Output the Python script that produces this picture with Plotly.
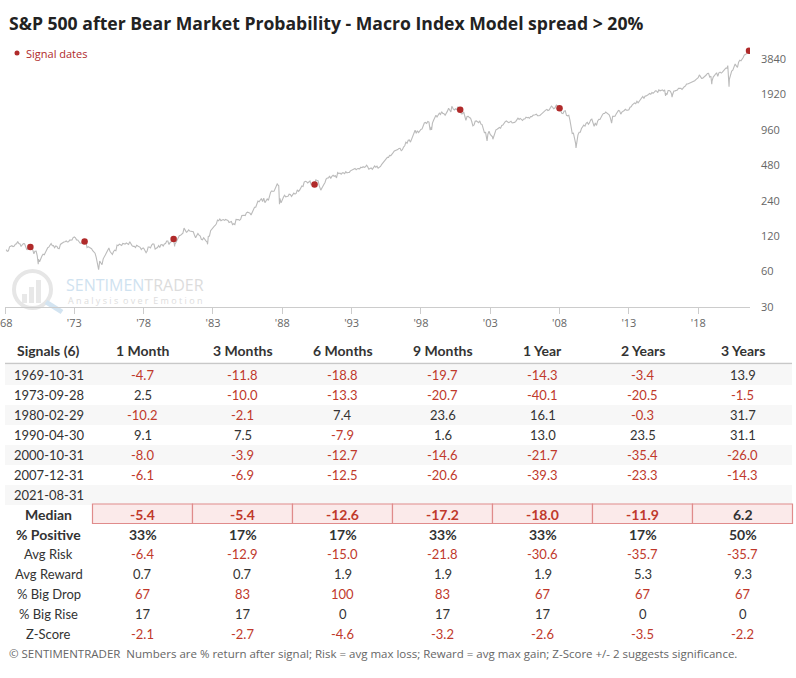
import plotly.graph_objects as go
import pandas as pd

# ---------------- data ----------------
chart_title = "S&P 500 after Bear Market Probability - Macro Index Model spread > 20%"

# S&P 500 month-end levels, Jan 1968 .. Aug 2021
spx_monthly = [
    92.2, 89.4, 90.2, 97.5, 98.7, 99.6, 97.7, 98.9, 102.7, 103.4, 108.4, 103.9,
    103.0, 98.1, 101.5, 103.7, 103.5, 97.7, 91.8, 95.5, 93.1, 97.1, 93.8, 92.1,
    85.0, 89.5, 89.6, 81.5, 76.6, 72.7, 78.1, 81.5, 84.3, 83.3, 87.2, 92.2,
    95.9, 96.8, 100.3, 103.9, 99.6, 99.7, 95.6, 99.0, 98.3, 94.2, 94.0, 102.1,
    103.9, 106.6, 107.2, 107.7, 109.5, 107.1, 107.4, 111.1, 110.6, 111.6, 116.7, 118.1,
    116.0, 111.7, 111.5, 107.0, 105.0, 104.3, 108.2, 104.3, 108.4, 108.3, 96.0, 97.6,
    96.6, 96.2, 94.0, 90.3, 87.3, 86.0, 79.3, 72.2, 63.5, 73.9, 70.0, 68.6,
    77.0, 81.6, 83.4, 87.3, 91.2, 95.2, 88.8, 86.9, 83.9, 89.0, 91.2, 90.2,
    100.9, 99.7, 102.8, 101.6, 100.2, 104.3, 103.4, 102.9, 105.2, 102.9, 102.1, 107.5,
    102.0, 99.8, 98.4, 98.4, 96.1, 100.5, 98.9, 97.0, 96.5, 92.3, 94.8, 95.1,
    89.3, 87.0, 89.2, 97.0, 97.2, 95.5, 100.7, 103.3, 102.5, 93.2, 94.7, 96.1,
    99.9, 96.3, 101.6, 101.8, 99.1, 102.9, 103.8, 109.3, 109.3, 101.8, 106.2, 107.9,
    114.2, 113.7, 102.1, 106.3, 111.2, 114.2, 121.7, 122.4, 125.5, 127.5, 140.5, 135.8,
    129.6, 131.3, 136.0, 132.8, 132.6, 131.2, 130.9, 122.8, 116.2, 121.9, 126.4, 122.6,
    120.4, 113.1, 112.0, 116.4, 111.9, 109.6, 107.1, 119.5, 120.4, 133.7, 138.5, 140.6,
    145.3, 148.1, 153.0, 164.4, 162.4, 168.1, 162.6, 164.4, 166.1, 163.6, 166.4, 164.9,
    163.4, 157.1, 159.2, 160.1, 150.6, 153.2, 150.7, 166.7, 166.1, 166.1, 163.6, 167.2,
    179.6, 181.2, 180.7, 179.8, 189.6, 191.9, 190.9, 188.6, 182.1, 189.8, 202.2, 211.3,
    211.8, 226.9, 238.9, 235.5, 247.4, 250.8, 236.1, 252.9, 231.3, 244.0, 249.2, 242.2,
    274.1, 284.2, 291.7, 288.4, 290.1, 304.0, 318.7, 329.8, 321.8, 251.8, 230.3, 247.1,
    257.1, 267.8, 258.9, 261.3, 262.2, 273.5, 272.0, 261.5, 271.9, 279.0, 273.7, 277.7,
    297.5, 288.9, 294.9, 309.6, 320.5, 318.0, 346.1, 351.5, 349.2, 340.4, 346.0, 353.4,
    329.1, 331.9, 339.9, 330.8, 361.2, 358.0, 356.2, 322.6, 306.1, 304.0, 322.2, 330.2,
    343.9, 367.1, 375.2, 375.3, 389.8, 371.2, 387.8, 395.4, 387.9, 392.5, 375.2, 417.1,
    408.8, 412.7, 403.7, 415.0, 415.4, 408.1, 424.2, 414.0, 417.8, 418.7, 431.4, 435.7,
    438.8, 443.4, 451.7, 440.2, 450.2, 450.5, 448.1, 463.6, 458.9, 467.8, 461.8, 466.5,
    481.6, 467.1, 445.8, 450.9, 456.5, 444.3, 458.3, 475.5, 462.7, 472.4, 453.7, 459.3,
    470.4, 487.4, 500.7, 514.7, 533.4, 544.8, 562.1, 561.9, 584.4, 581.5, 605.4, 615.9,
    636.0, 640.4, 645.5, 654.2, 669.1, 670.6, 640.0, 652.0, 687.3, 705.3, 757.0, 740.7,
    786.2, 790.8, 757.1, 801.3, 848.3, 885.1, 954.3, 899.5, 947.3, 914.6, 955.4, 970.4,
    980.3, 1049.3, 1101.8, 1111.8, 1090.8, 1133.8, 1120.7, 957.3, 1017.0, 1098.7, 1163.6, 1229.2,
    1279.6, 1238.3, 1286.4, 1335.2, 1301.8, 1372.7, 1328.7, 1320.4, 1282.7, 1362.9, 1388.9, 1469.3,
    1394.5, 1366.4, 1498.6, 1452.4, 1420.6, 1454.6, 1430.8, 1517.7, 1436.5, 1429.4, 1315.2, 1320.3,
    1366.0, 1239.9, 1160.3, 1249.5, 1255.8, 1224.4, 1211.2, 1133.6, 1040.9, 1059.8, 1139.5, 1148.1,
    1130.2, 1106.7, 1147.4, 1076.9, 1067.1, 989.8, 911.6, 916.1, 815.3, 885.8, 936.3, 879.8,
    855.7, 841.2, 848.2, 916.9, 963.6, 974.5, 990.3, 1008.0, 996.0, 1050.7, 1058.2, 1111.9,
    1131.1, 1144.9, 1126.2, 1107.3, 1120.7, 1140.8, 1101.7, 1104.2, 1114.6, 1130.2, 1173.8, 1211.9,
    1181.3, 1203.6, 1180.6, 1156.9, 1191.5, 1191.3, 1234.2, 1220.3, 1228.8, 1207.0, 1249.5, 1248.3,
    1280.1, 1280.7, 1294.9, 1310.6, 1270.1, 1270.2, 1276.7, 1303.8, 1335.9, 1377.9, 1400.6, 1418.3,
    1438.2, 1406.8, 1420.9, 1482.4, 1530.6, 1503.4, 1455.3, 1474.0, 1526.8, 1549.4, 1481.1, 1468.4,
    1378.6, 1330.6, 1322.7, 1385.6, 1400.4, 1280.0, 1267.4, 1282.8, 1166.4, 968.8, 896.2, 903.3,
    825.9, 735.1, 797.9, 872.8, 919.1, 919.3, 987.5, 1020.6, 1057.1, 1036.2, 1095.6, 1115.1,
    1073.9, 1104.5, 1169.4, 1186.7, 1089.4, 1030.7, 1101.6, 1049.3, 1141.2, 1183.3, 1180.6, 1257.6,
    1286.1, 1327.2, 1325.8, 1363.6, 1345.2, 1320.6, 1292.3, 1218.9, 1131.4, 1253.3, 1247.0, 1257.6,
    1312.4, 1365.7, 1408.5, 1397.9, 1310.3, 1362.2, 1379.3, 1406.6, 1440.7, 1412.2, 1416.2, 1426.2,
    1498.1, 1514.7, 1569.2, 1597.6, 1630.7, 1606.3, 1685.7, 1633.0, 1681.6, 1756.5, 1805.8, 1848.4,
    1782.6, 1859.5, 1872.3, 1884.0, 1923.6, 1960.2, 1930.7, 2003.4, 1972.3, 2018.1, 2067.6, 2058.9,
    1995.0, 2104.5, 2067.9, 2085.5, 2107.4, 2063.1, 2103.8, 1972.2, 1920.0, 2079.4, 2080.4, 2043.9,
    1940.2, 1932.2, 2059.7, 2065.3, 2097.0, 2098.9, 2173.6, 2171.0, 2168.3, 2126.2, 2198.8, 2238.8,
    2278.9, 2363.6, 2362.7, 2384.2, 2411.8, 2423.4, 2470.3, 2471.7, 2519.4, 2575.3, 2647.6, 2673.6,
    2823.8, 2713.8, 2640.9, 2648.1, 2705.3, 2718.4, 2816.3, 2901.5, 2914.0, 2711.7, 2760.2, 2506.9,
    2704.1, 2784.5, 2834.4, 2945.8, 2752.1, 2941.8, 2980.4, 2926.5, 2976.7, 3037.6, 3141.0, 3230.8,
    3225.5, 2954.2, 2584.6, 2912.4, 3044.3, 3100.3, 3271.1, 3500.3, 3363.0, 3270.0, 3621.6, 3756.1,
    3714.2, 3811.2, 3972.9, 4181.2, 4204.1, 4297.5, 4395.3, 4522.7,
]

# intramonth turning points visible on the line
spx_extreme_dates = ["1970-05-26", "1974-10-03", "1978-03-06", "1980-03-27", "1982-08-12",
                     "1987-08-25", "1987-10-19", "1990-10-11", "1998-10-08", "2000-03-24",
                     "2002-10-09", "2003-03-11", "2007-10-09", "2009-03-09", "2011-10-03",
                     "2015-08-25", "2016-02-11", "2018-09-20", "2018-12-24", "2020-02-19",
                     "2020-03-23"]
spx_extreme_values = [69.3, 62.3, 86.9, 98.2, 102.4,
                      336.8, 224.8, 295.5, 959.4, 1527.5,
                      776.8, 800.7, 1565.2, 676.5, 1099.2,
                      1867.6, 1829.1, 2930.8, 2351.1, 3386.2,
                      2237.4]

signal_dates = ["1969-10-31", "1973-09-28", "1980-02-29", "1990-04-30",
                "2000-10-31", "2007-12-31", "2021-08-31"]
signal_values = [97.1, 108.4, 113.7, 330.8, 1429.4, 1468.4, 4522.7]

y_tick_values = [30, 60, 120, 240, 480, 960, 1920, 3840]
x_tick_dates = ["1968-01-01", "1973-01-01", "1978-01-01", "1983-01-01", "1988-01-01",
                "1993-01-01", "1998-01-01", "2003-01-01", "2008-01-01", "2013-01-01",
                "2018-01-01"]
x_tick_labels = ["'68", "'73", "'78", "'83", "'88", "'93", "'98", "'03", "'08", "'13", "'18"]

# table
table_columns = ["Signals (6)", "1 Month", "3 Months", "6 Months", "9 Months",
                 "1 Year", "2 Years", "3 Years"]
signal_labels = ["1969-10-31", "1973-09-28", "1980-02-29", "1990-04-30",
                 "2000-10-31", "2007-12-31", "2021-08-31"]
signal_returns = [
    [-4.7, -11.8, -18.8, -19.7, -14.3, -3.4, 13.9],
    [2.5, -10.0, -13.3, -20.7, -40.1, -20.5, -1.5],
    [-10.2, -2.1, 7.4, 23.6, 16.1, -0.3, 31.7],
    [9.1, 7.5, -7.9, 1.6, 13.0, 23.5, 31.1],
    [-8.0, -3.9, -12.7, -14.6, -21.7, -35.4, -26.0],
    [-6.1, -6.9, -12.5, -20.6, -39.3, -23.3, -14.3],
    [None, None, None, None, None, None, None],
]
median_row = [-5.4, -5.4, -12.6, -17.2, -18.0, -11.9, 6.2]
pct_positive = [33, 17, 17, 33, 33, 17, 50]
avg_risk = [-6.4, -12.9, -15.0, -21.8, -30.6, -35.7, -35.7]
avg_reward = [0.7, 0.7, 1.9, 1.9, 1.9, 5.3, 9.3]
pct_big_drop = [67, 83, 100, 83, 67, 67, 67]
pct_big_rise = [17, 17, 0, 17, 17, 0, 0]
z_scores = [-2.1, -2.7, -4.6, -3.2, -2.6, -3.5, -2.2]

footer_text = ("© SENTIMENTRADER  Numbers are % return after signal; Risk = avg max loss; "
               "Reward = avg max gain; Z-Score +/- 2 suggests significance.")

# ---------------- styling ----------------
W, H = 796, 678
PL, PR, PT, PB = 5, 750, 40, 307
RED = "#c0392b"
DARK = "#333333"
DOT = "#b02a2a"
TFONT = "Lato"

def px(x):
    return (x - PL) / (PR - PL)

def py(y):
    return (PB - y) / (PB - PT)

line_df = pd.DataFrame({
    "date": list(pd.date_range("1968-01-31", periods=len(spx_monthly), freq="ME")) +
            list(pd.to_datetime(spx_extreme_dates)),
    "value": spx_monthly + spx_extreme_values,
}).sort_values("date")

fig = go.Figure()
fig.add_trace(go.Scatter(x=line_df["date"], y=line_df["value"], mode="lines",
                         line=dict(color="#bbbbbb", width=1.1), hoverinfo="skip",
                         showlegend=False))
fig.add_trace(go.Scatter(x=pd.to_datetime(signal_dates), y=signal_values, mode="markers",
                         marker=dict(color=DOT, size=6.5), name="Signal dates",
                         showlegend=False))

shapes = []
annotations = []

# watermark
shapes.append(dict(type="circle", xref="paper", yref="paper", layer="below",
                   x0=px(14), x1=px(51), y0=py(271), y1=py(308),
                   line=dict(color="#e6e6e6", width=4)))
for bx0, bx1, btop in [(22, 27, 294), (29, 34, 287), (36, 41, 280)]:
    shapes.append(dict(type="rect", xref="paper", yref="paper", layer="below",
                       x0=px(bx0), x1=px(bx1), y0=py(303), y1=py(btop),
                       fillcolor="#e8e8e8", line=dict(width=0)))
shapes.append(dict(type="line", xref="paper", yref="paper", layer="below",
                   x0=px(46), x1=px(62), y0=py(302), y1=py(312),
                   line=dict(color="#d3e4f1", width=5)))
annotations.append(dict(xref="paper", yref="paper", x=px(134.5), y=py(285),
                        xanchor="center", yanchor="middle",
                        text='<span style="color:#cfe2f0">SENTIMEN</span>'
                             '<span style="color:#dcdcdc">TRADER</span>',
                        showarrow=False, font=dict(family="Open Sans", size=16)))
annotations.append(dict(xref="paper", yref="paper", x=px(134.5), y=py(300),
                        xanchor="center", yanchor="middle",
                        text="A n a l y s i s  o v e r  E m o t i o n", showarrow=False,
                        font=dict(family="Open Sans", size=9, color="#dddddd")))

# title and legend
annotations.append(dict(xref="paper", yref="paper", x=px(7), y=py(23), xanchor="left",
                        yanchor="middle", text="<b>" + chart_title + "</b>", showarrow=False,
                        font=dict(family="Open Sans", size=17.6, color="#222222")))
shapes.append(dict(type="circle", xref="paper", yref="paper",
                   x0=px(14.5), x1=px(19.5), y0=py(50.5), y1=py(55.5),
                   fillcolor=DOT, line=dict(width=0)))
annotations.append(dict(xref="paper", yref="paper", x=px(24), y=py(53), xanchor="left",
                        yanchor="middle", text="Signal dates", showarrow=False,
                        font=dict(family="Open Sans", size=11, color=DOT)))

# table geometry
col_centers = [48.7] + [142.5 + 100 * i for i in range(7)]
TX0, TX1 = 5, 792

def fmt(v):
    return "" if v is None else f"{v:.1f}"

def add_text(x, y, text, color=DARK, size=13, bold=False):
    annotations.append(dict(xref="paper", yref="paper", x=px(x), y=py(y),
                            xanchor="center", yanchor="middle",
                            text=("<b>" + text + "</b>") if (bold and text) else text,
                            showarrow=False, font=dict(family=TFONT, size=size, color=color)))

# header
for c, name in zip(col_centers, table_columns):
    add_text(c, 350, name, color="#333", size=14, bold=True)
shapes.append(dict(type="line", xref="paper", yref="paper", x0=px(TX0), x1=px(TX1),
                   y0=py(363.5), y1=py(363.5), line=dict(color="#c8c8c8", width=1.5)))

# signal rows
for i, (lab, vals) in enumerate(zip(signal_labels, signal_returns)):
    yc = 375 + 20 * i
    if i % 2 == 0:
        shapes.append(dict(type="rect", xref="paper", yref="paper", layer="below",
                           x0=px(TX0), x1=px(TX1), y0=py(yc - 10), y1=py(yc + 10),
                           fillcolor="#f7f7f7", line=dict(width=0)))
    add_text(col_centers[0], yc, lab)
    for c, v in zip(col_centers[1:], vals):
        add_text(c, yc, fmt(v), color=RED if (v is not None and v < 0) else DARK)

# median row
ym = 514
for k in range(7):
    x0 = 92.5 + 100 * k
    shapes.append(dict(type="rect", xref="paper", yref="paper",
                       x0=px(x0), x1=px(x0 + 100), y0=py(504), y1=py(523.5),
                       fillcolor="#fbeaea", line=dict(color="#e08b8b", width=1.2)))
add_text(col_centers[0], ym, "Median", size=14, bold=True)
for c, v in zip(col_centers[1:], median_row):
    add_text(c, ym, fmt(v), color=RED if v < 0 else DARK, size=14, bold=True)

# stat rows
add_text(col_centers[0], 534, "% Positive", size=14, bold=True)
for c, v in zip(col_centers[1:], pct_positive):
    add_text(c, 534, f"{v}%", size=14, bold=True)

stat_rows = [("Avg Risk", avg_risk, True), ("Avg Reward", avg_reward, True),
             ("% Big Drop", pct_big_drop, False), ("% Big Rise", pct_big_rise, False),
             ("Z-Score", z_scores, True)]
for j, (lab, vals, dec) in enumerate(stat_rows):
    yc = 554 + 20 * j
    add_text(col_centers[0], yc, lab)
    for c, v in zip(col_centers[1:], vals):
        txt = f"{v:.1f}" if dec else f"{v}"
        if lab == "% Big Drop":
            col = RED
        else:
            col = RED if v < 0 else DARK
        add_text(c, yc, txt, color=col)

annotations.append(dict(xref="paper", yref="paper", x=px(7), y=py(653), xanchor="left",
                        yanchor="middle", text=footer_text, showarrow=False,
                        font=dict(family="Open Sans", size=11.5, color="#666666")))

fig.update_layout(
    template="none",
    width=W, height=H,
    margin=dict(l=PL, r=W - PR, t=PT, b=H - PB, pad=0),
    paper_bgcolor="white", plot_bgcolor="white",
    showlegend=False,
    shapes=shapes, annotations=annotations,
    xaxis=dict(type="date", range=["1968-01-01", "2021-09-26"],
               tickvals=pd.to_datetime(x_tick_dates), ticktext=x_tick_labels,
               showgrid=False, zeroline=False, showline=True, linecolor="#cccccc",
               linewidth=1, ticks="outside", ticklen=6, tickcolor="#cccccc",
               ticklabeloverflow="allow", automargin=False,
               tickfont=dict(family="Open Sans", size=11, color="#666666")),
    yaxis=dict(type="log", side="right", range=[1.4771, 3.7476],
               tickvals=y_tick_values, ticktext=[str(v) for v in y_tick_values],
               showgrid=False, zeroline=False, showline=False, ticks="",
               ticklabelstandoff=10, automargin=False,
               tickfont=dict(family="Open Sans", size=11, color="#666666")),
)

fig.write_html("out.html", config={"displayModeBar": False},
               post_script="document.body.style.margin='0px';")
